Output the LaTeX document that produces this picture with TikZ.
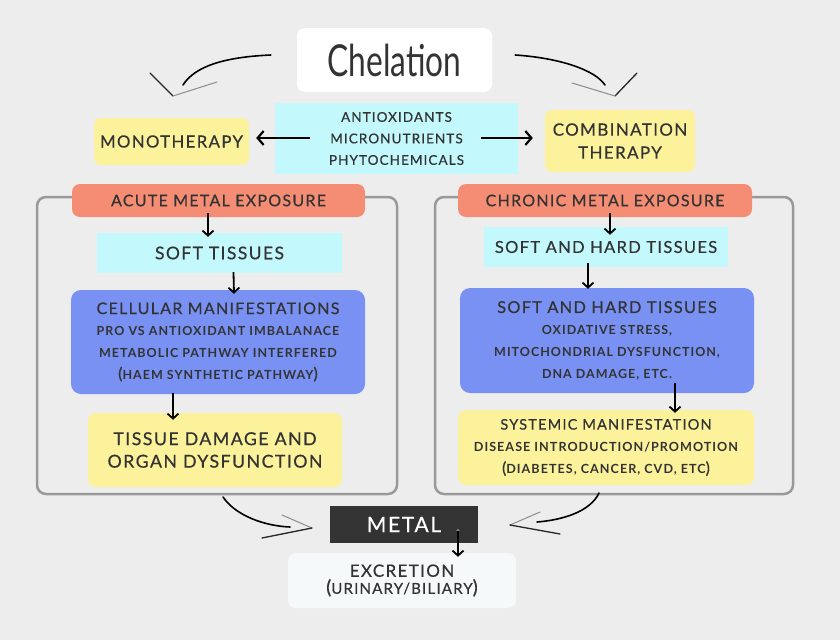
\documentclass[tikz,border=0pt]{standalone}
\usepackage{fontspec}
\usepackage{graphicx}
\usetikzlibrary{arrows.meta}
\setmainfont{Lato}
\newfontfamily\lf[LetterSpace=8,FakeBold=0.5]{Lato}
\newfontfamily\lfb[LetterSpace=8]{Lato Bold}
\definecolor{bg}{HTML}{EDEDED}
\definecolor{txt}{HTML}{333333}
\definecolor{salm}{HTML}{F58D75}
\definecolor{cyanb}{HTML}{C3F9FC}
\definecolor{blueb}{HTML}{7891F2}
\definecolor{yel}{HTML}{FCF29C}
\definecolor{panelc}{HTML}{999999}
\definecolor{metalc}{HTML}{333333}
\definecolor{excrc}{HTML}{F5F9FA}
\tikzset{
  box/.style={draw=none, inner sep=0pt, align=center, text=txt},
  arr/.style={-{Straight Barb[length=5pt,width=11pt,line width=1.8pt]}, line width=1.8pt, black},
  harr/.style={-{Straight Barb[length=6pt,width=14pt,line width=2.2pt]}, line width=2.2pt, black},
  hand/.style={line width=1.6pt, line cap=round, black},
  arm/.style={line width=1.3pt, line cap=round, black!85},
  armlight/.style={line width=1pt, line cap=round, black!45},
  panel/.style={draw=panelc, line width=2.5pt, rounded corners=9pt},
}
\begin{document}
\begin{tikzpicture}[x=1pt,y=-1pt]
\fill[bg] (0,0) rectangle (840,640);
\useasboundingbox (0,0) rectangle (840,640);

% panels
\draw[panel] (37,197) rectangle (397,494);
\draw[panel] (435,197) rectangle (793,494);

% top
\node[box, fill=white, rounded corners=8pt, minimum width=195pt, minimum height=64pt,
  font=\fontsize{44}{44}\selectfont, text=txt] (chel) at (394.5,60) {\scalebox{0.72}[1]{Chelation}};
\node[box, fill=cyanb, minimum width=243pt, minimum height=71pt,
  font=\lf\fontsize{13.5}{21.5}\selectfont] (anti) at (396.5,138.5) {ANTIOXIDANTS\\MICRONUTRIENTS\\PHYTOCHEMICALS};
\node[box, fill=yel, rounded corners=7pt, minimum width=155pt, minimum height=47pt,
  font=\lf\fontsize{16.8}{22}\selectfont] (mono) at (171.5,141.5) {MONOTHERAPY};
\node[box, fill=yel, rounded corners=7pt, minimum width=150pt, minimum height=62pt,
  font=\lf\fontsize{17}{23}\selectfont] (combo) at (620,141) {COMBINATION\\THERAPY};

% left column
\node[box, fill=salm, rounded corners=8pt, minimum width=293pt, minimum height=33pt,
  font=\lf\fontsize{16}{22}\selectfont] (acute) at (218.5,200.5) {ACUTE METAL EXPOSURE};
\node[box, fill=cyanb, minimum width=245pt, minimum height=40pt,
  font=\lf\fontsize{17.5}{22}\selectfont] (softL) at (219.5,253) {SOFT TISSUES};
\node[box, fill=blueb, rounded corners=10pt, minimum width=294pt, minimum height=104pt,
  font=\lfb\fontsize{12.5}{21.7}\selectfont] (cellL) at (218,342)
  {{\lf\fontsize{16}{21.7}\selectfont CELLULAR MANIFESTATIONS}\\PRO VS ANTIOXIDANT IMBALANACE\\METABOLIC PATHWAY INTERFERED\\{\lf\fontsize{16}{21.7}\selectfont(}HAEM SYNTHETIC PATHWAY{\lf\fontsize{16}{21.7}\selectfont)}};
\node[box, fill=yel, rounded corners=8pt, minimum width=254pt, minimum height=74pt,
  font=\lf\fontsize{17.8}{22.5}\selectfont] (damL) at (215,450) {TISSUE DAMAGE AND\\ORGAN DYSFUNCTION};

% right column
\node[box, fill=salm, rounded corners=8pt, minimum width=294pt, minimum height=33pt,
  font=\lf\fontsize{16}{22}\selectfont] (chron) at (605,200.5) {CHRONIC METAL EXPOSURE};
\node[box, fill=cyanb, minimum width=244pt, minimum height=40pt,
  font=\lf\fontsize{16.5}{22}\selectfont] (softR) at (606,247) {SOFT AND HARD TISSUES};
\node[box, fill=blueb, rounded corners=10pt, minimum width=294pt, minimum height=105pt,
  font=\lfb\fontsize{12.5}{21.7}\selectfont] (cellR) at (607,340.5)
  {{\lf\fontsize{16.3}{21.7}\selectfont SOFT AND HARD TISSUES}\\OXIDATIVE STRESS,\\MITOCHONDRIAL DYSFUNCTION,\\DNA DAMAGE, ETC.};
\node[box, fill=yel, rounded corners=8pt, minimum width=296pt, minimum height=75pt,
  font=\lfb\fontsize{12.6}{22}\selectfont] (sysR) at (606,447.5)
  {{\lf\fontsize{14.6}{22}\selectfont SYSTEMIC MANIFESTATION}\\DISEASE INTRODUCTION/PROMOTION\\{\lf\fontsize{16}{22}\selectfont(}DIABETES, CANCER, CVD, ETC{\lf\fontsize{16}{22}\selectfont)}};

% bottom
\node[box, fill=metalc, minimum width=148pt, minimum height=37pt, text=white,
  font=\lf\fontsize{21}{22}\selectfont] (metal) at (404,524.5) {METAL};
\node[box, fill=excrc, rounded corners=8pt, minimum width=228pt, minimum height=55pt,
  font=\lf\fontsize{17}{17}\selectfont] (excr) at (402,580.5)
  {EXCRETION\\{\fontsize{19}{17}\selectfont(}{\fontsize{15}{17}\selectfont URINARY/BILIARY}{\fontsize{19}{17}\selectfont)}};

% straight arrows
\draw[harr] ([xshift=35pt,yshift=0.5pt]anti.west) -- ([xshift=7pt,yshift=3.5pt]mono.east);
\draw[harr] ([xshift=-37pt,yshift=0.5pt]anti.east) -- ([xshift=-12pt,yshift=3pt]combo.west);
\draw[arr] ([xshift=-10.5pt,yshift=4pt]acute.south) -- ([xshift=-11.5pt,yshift=-4pt]softL.north);
\draw[arr] ([xshift=14pt,yshift=1pt]softL.south) -- ([xshift=16pt,yshift=-4pt]cellL.north);
\draw[arr] ([xshift=-45pt,yshift=1pt]cellL.south) -- ([xshift=-42pt,yshift=-7pt]damL.north);
\draw[arr] ([xshift=5pt,yshift=4pt]chron.south) -- ([xshift=4pt,yshift=-8pt]softR.north);
\draw[arr] ([xshift=-18pt,yshift=4pt]softR.south) -- ([xshift=-19pt,yshift=-1pt]cellR.north);
\draw[arr] ([xshift=68pt,yshift=10pt]cellR.south) -- ([xshift=69pt,yshift=-3pt]sysR.north);
\fill[black!45] (458,530.5) circle (1.6pt);
\draw[arr] ([xshift=54pt,yshift=12pt]metal.south) -- ([xshift=56pt,yshift=-4pt]excr.north);

% hand-drawn curved arrows
\coordinate (c1) at (173,96);
\draw[hand] ([xshift=-26pt,yshift=5pt]chel.west) .. controls (225,57) and (195,66) .. (183,85);
\draw[arm] (150,73) -- (c1);
\draw[armlight] (217,82) -- (c1);

\coordinate (c2) at (615,96);
\draw[hand] ([xshift=23pt,yshift=5pt]chel.east) .. controls (560,58) and (595,70) .. (605,85);
\draw[arm] (637,73) -- (c2);
\draw[armlight] (572,83) -- (c2);

\coordinate (c3) at (312,528);
\draw[hand] (223,497) .. controls (236,516) and (265,526) .. (290,527);
\draw[armlight] (282,515) -- (c3);
\draw[arm] (262,538) -- (c3);

\coordinate (c4) at (510,525);
\draw[hand] (599,493) .. controls (590,512) and (562,520) .. (537,522);
\draw[armlight] (540,512) -- (c4);
\draw[arm] (560,534) -- (c4);
\end{tikzpicture}
\end{document}
